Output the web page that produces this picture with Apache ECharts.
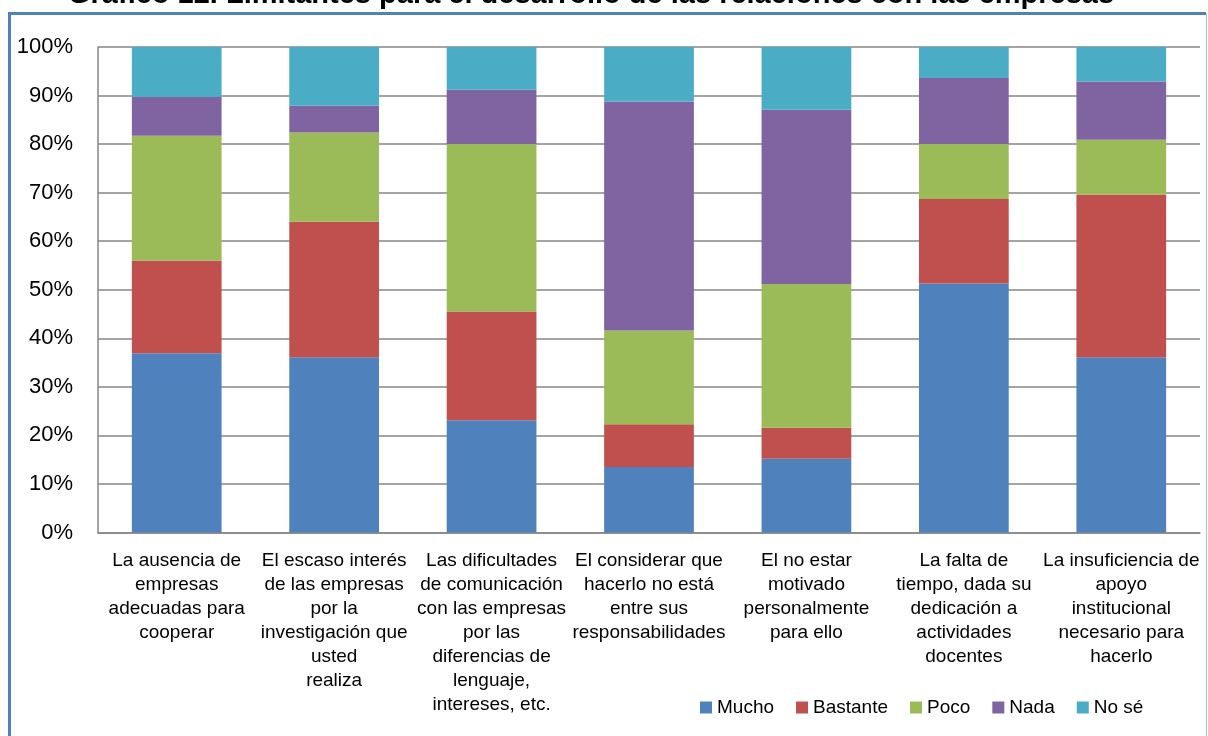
<!DOCTYPE html>
<html>
<head>
<meta charset="utf-8">
<title>Gráfico 12. Limitantes para el desarrollo de las relaciones con las empresas</title>
<script src="https://cdn.jsdelivr.net/npm/echarts@6/dist/echarts.min.js"></script>
<style>
  html, body { margin: 0; padding: 0; background: #fff; }
  #chart { width: 1208px; height: 736px; }
</style>
</head>
<body>
<div id="chart"></div>
<script>
// Categories (line breaks as laid out under each bar)
const categories = [
  'La ausencia de\nempresas\nadecuadas para\ncooperar',
  'El escaso interés\nde las empresas\npor la\ninvestigación que\nusted\nrealiza',
  'Las dificultades\nde comunicación\ncon las empresas\npor las\ndiferencias de\nlenguaje,\nintereses, etc.',
  'El considerar que\nhacerlo no está\nentre sus\nresponsabilidades',
  'El no estar\nmotivado\npersonalmente\npara ello',
  'La falta de\ntiempo, dada su\ndedicación a\nactividades\ndocentes',
  'La insuficiencia de\napoyo\ninstitucional\nnecesario para\nhacerlo'
];

// Share of answers per category (%)
const mucho    = [36.9, 36.1, 23.1, 13.5, 15.2, 51.3, 36.1];
const bastante = [19.1, 27.9, 22.4,  8.8,  6.4, 17.4, 33.5];
const poco     = [25.7, 18.4, 34.5, 19.3, 29.6, 11.3, 11.3];
const nada     = [ 8.0,  5.5, 11.2, 47.2, 35.9, 13.6, 12.0];
const noSe     = [10.3, 12.1,  8.8, 11.2, 12.9,  6.4,  7.1];

const seriesNames = ['Mucho', 'Bastante', 'Poco', 'Nada', 'No sé'];
const seriesData = [mucho, bastante, poco, nada, noSe];
const seriesColors = ['#4F81BD', '#C0504D', '#9BBB59', '#8064A2', '#4BACC6'];

const yTicks = [0, 10, 20, 30, 40, 50, 60, 70, 80, 90, 100];

const FONT = '"Liberation Sans", Arial, sans-serif';

const chart = echarts.init(document.getElementById('chart'), null, { renderer: 'canvas' });

chart.setOption({
  animation: false,
  backgroundColor: '#ffffff',
  title: {
    text: 'Gráfico 12. Limitantes para el desarrollo de las relaciones con las empresas',
    left: 63,
    top: -25,
    textStyle: { fontFamily: FONT, fontSize: 29, fontWeight: 'bold', color: '#000' }
  },
  graphic: [
    // frame around the chart area
    { type: 'polyline', silent: true, z: 100,
      shape: { points: [[9.5, 760], [9.5, 13.5], [1206, 13.5]] },
      style: { stroke: '#4F81BD', lineWidth: 3, fill: null } },
    { type: 'line', silent: true, z: 100,
      shape: { x1: 1206.5, y1: 13.5, x2: 1206.5, y2: 760 },
      style: { stroke: '#A7BEDB', lineWidth: 1 } }
  ],
  legend: {
    data: seriesNames,
    left: 695,
    top: 693,
    itemWidth: 12,
    itemHeight: 12,
    itemGap: 22,
    icon: 'rect',
    textStyle: { fontFamily: FONT, fontSize: 19, color: '#000' }
  },
  grid: { left: 98, right: 8, top: 47, bottom: 203.5, containLabel: false },
  xAxis: {
    type: 'category',
    data: categories,
    axisLine: { show: true, lineStyle: { color: '#868686', width: 1.5 } },
    axisTick: { show: false },
    axisLabel: {
      interval: 0,
      margin: 16,
      fontFamily: FONT,
      fontSize: 19,
      lineHeight: 24,
      color: '#000',
      align: 'center'
    }
  },
  yAxis: {
    type: 'value',
    min: 0,
    max: 100,
    interval: 10,
    axisLine: { show: true, lineStyle: { color: '#868686', width: 1.5 } },
    axisTick: { show: false },
    splitLine: { show: true, lineStyle: { color: '#868686', width: 1.5 } },
    axisLabel: {
      margin: 25,
      fontFamily: FONT,
      fontSize: 22,
      color: '#000',
      formatter: function (v) { return yTicks.indexOf(v) >= 0 ? v + '%' : ''; }
    }
  },
  series: seriesNames.map(function (name, i) {
    return {
      name: name,
      type: 'bar',
      stack: 'total',
      barWidth: '57%',
      data: seriesData[i],
      itemStyle: { color: seriesColors[i] }
    };
  })
});
</script>
</body>
</html>
